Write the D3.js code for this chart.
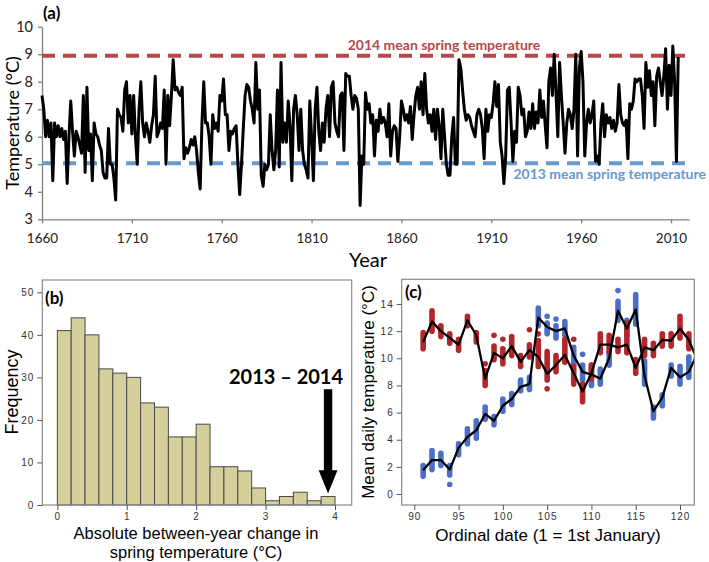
<!DOCTYPE html>
<html><head><meta charset="utf-8">
<script src="https://cdn.jsdelivr.net/npm/d3@7"></script>
<style>body{margin:0;background:#fff} svg{display:block}</style>
</head><body>
<svg id="chart" width="709" height="562"></svg>
<script>
// ---------- Panel (a): spring temperature series ----------
const startYear = 1660;
const springTemp = [
 7.5,7.0,6.0,6.6,6.0,6.5,4.4,6.5,6.0,6.4,
 6.0,6.3,5.9,6.2,4.3,6.0,7.3,6.2,5.3,6.2,
 6.0,5.7,5.4,7.5,4.7,7.8,5.5,6.1,4.4,6.5,
 6.1,6.0,5.7,5.5,4.7,4.5,4.5,6.3,5.0,5.0,
 4.5,3.7,7.0,6.8,6.7,6.2,7.7,8.0,6.5,7.5,
 6.1,7.5,6.0,5.0,7.0,8.0,6.5,6.0,6.5,6.2,
 5.8,6.4,6.8,8.2,6.0,6.2,6.5,6.3,7.7,5.0,
 7.5,6.4,7.5,8.8,7.7,7.8,7.6,7.5,7.8,5.2,
 5.6,5.4,5.6,5.9,5.7,6.0,5.5,4.7,4.1,6.5,
 8.0,6.5,6.5,6.0,5.0,6.8,6.3,6.5,6.2,7.5,
 7.3,8.1,6.8,6.8,5.5,6.2,6.1,6.3,6.4,5.0,
 3.9,5.0,6.3,7.5,7.9,7.8,7.3,7.0,6.5,8.7,
 7.0,7.7,4.6,4.2,5.0,4.8,5.0,6.8,5.5,4.8,
 5.5,7.7,4.9,8.7,5.8,6.5,5.8,7.3,6.4,4.4,
 7.0,7.5,6.8,5.5,7.0,5.5,5.0,4.8,4.5,7.3,
 6.0,4.4,7.0,7.8,6.2,5.5,6.5,5.8,7.0,7.5,
 6.0,7.8,8.0,6.5,6.2,6.0,7.5,7.6,5.5,8.3,
 8.2,8.2,7.5,7.0,7.5,7.4,7.0,3.5,5.3,5.0,
 7.6,7.0,7.2,6.5,6.8,5.3,6.6,6.2,7.0,6.5,
 6.7,6.5,6.0,7.2,5.3,6.2,6.4,6.3,5.1,6.0,
 7.3,7.0,6.6,6.8,6.5,7.1,5.9,6.8,7.5,7.8,
 7.0,8.0,6.8,8.3,7.0,6.5,6.8,6.2,7.0,5.9,
 7.0,6.4,5.2,7.0,6.0,5.0,4.6,4.6,6.0,6.7,
 5.0,5.0,8.8,8.5,7.7,7.0,6.6,6.8,6.7,6.4,
 6.2,6.0,6.8,7.0,6.8,6.3,5.2,7.0,6.2,6.8,
 6.7,7.2,8.0,7.1,7.9,5.8,5.3,4.3,5.3,7.7,
 7.8,6.5,5.1,6.2,5.8,7.8,7.5,6.8,7.0,6.0,
 6.2,6.9,6.3,7.2,6.3,6.9,6.5,7.7,6.7,7.3,
 6.4,5.6,8.0,8.5,7.5,9.0,7.6,6.0,8.7,7.5,
 6.5,5.4,6.5,7.0,6.8,6.3,7.0,9.0,5.3,8.5,
 9.1,8.0,5.3,6.5,7.0,6.5,6.8,7.3,5.1,5.3,
 5.0,6.5,7.2,6.0,6.8,6.5,6.7,6.3,6.6,6.2,
 6.5,7.9,6.8,6.5,6.4,6.6,5.2,7.2,7.0,7.3,
 8.1,8.0,8.1,8.1,7.5,6.3,8.7,7.8,8.4,7.5,
 8.0,6.4,8.2,8.5,8.0,7.5,8.2,9.2,7.0,8.6,
 7.5,9.3,8.0,5.1,8.9
];
const yearTicks = [1660,1710,1760,1810,1860,1910,1960,2010];
const tempTicks = [3,4,5,6,7,8,9,10];
const refValues = [8.94, 5.04];
const refLabels = ["2014 mean spring temperature", "2013 mean spring temperature"];
const refColors = ["#b5484a", "#6798d0"];

// ---------- Panel (b): histogram ----------
const binWidth = 0.2;
const binFreq = [41,44,40,32,31,30,24,23,16,16,19,9,9,8,4,1,2,3,1,2];
const changeTicks = [0,1,2,3,4];
const freqTicks = [0,10,20,30,40,50];
const highlightChange = 3.9;
const highlightFreq = 2;

// ---------- Panel (c): daily temperatures ----------
const days = [91,92,93,94,95,96,97,98,99,100,101,102,103,104,105,106,107,108,109,110,111,112,113,114,115,116,117,118,119,120,121,122];
const mean2014 = [11.2,12.7,12.0,11.5,11.0,12.8,11.7,8.5,10.4,10.0,10.9,9.75,10.6,10.1,8.85,9.5,10.25,8.9,7.55,8.9,11.0,11.0,10.8,11.0,9.3,10.8,10.6,11.35,11.3,12.2,11.35,9.8];
const mean2013 = [1.75,2.5,2.5,1.8,3.4,4.2,4.7,5.9,5.4,6.5,7.0,7.9,8.1,13.0,12.3,12.0,12.2,10.2,9.0,8.8,8.5,10.0,13.5,12.2,13.6,8.7,6.1,7.1,9.3,8.6,9.0,10.4];
const stripDays = [91,92,93,94,95,96,97,98,99,100,101,102,103,104,105,106,107,108,109,110,111,112,113,114,115,116,117,118,119,120,121];
const lo2014 = [10.5,11.8,11.4,10.9,10.4,12.2,11.0,7.8,9.7,9.4,10.0,9.2,9.9,9.2,8.2,8.8,9.5,7.9,6.6,8.3,10.2,10.3,10.3,10.2,8.7,10.0,10.0,10.7,10.7,11.3,10.5];
const hi2014 = [12.1,13.7,12.6,12.0,11.6,13.3,12.1,9.3,11.1,10.9,11.8,10.4,11.2,11.5,10.7,10.4,11.6,9.6,8.3,9.7,12.0,11.9,11.6,12.8,10.1,11.6,11.3,12.0,12.0,13.3,12.0];
const lo2013 = [1.1,1.6,1.9,1.2,2.7,3.5,3.9,5.3,4.9,5.9,6.4,7.4,7.5,12.2,11.6,11.3,11.5,9.3,8.2,7.8,7.9,9.3,12.6,11.5,12.3,7.9,5.4,6.3,8.5,7.9,8.4];
const hi2013 = [2.3,3.4,3.2,2.3,3.9,5.0,5.6,6.6,5.9,7.2,7.6,8.6,8.8,13.9,12.8,12.6,12.9,11.0,9.7,9.7,9.4,10.6,14.4,13.0,14.9,10.0,6.6,7.5,9.7,9.6,10.3];
const extraDay2014 = [98,99,100,103,104,105,108];
const extraVal2014 = [9.6,11.7,11.4,12.1,11.8,7.75,11.4];
const extraDay2013 = [94,105,106,109,113];
const extraVal2013 = [0.7,13.1,12.9,10.3,15.0];
const dayTicks = [90,95,100,105,110,115,120];
const dailyTicks = [0,2,4,6,8,10,12,14];

const RED = "#b3262c", BLUE = "#4b6fc4";
const svg = d3.select("#chart");
const calibri = "Lato, 'Open Sans', sans-serif";
const arial = "'Liberation Sans', Arial, sans-serif";
const intFmt = d3.format("d");

// ===== Panel (a) =====
const xA = d3.scaleLinear().domain([1660, 2020]).range([42, 689]);
const yA = d3.scaleLinear().domain([3, 10]).range([219.3, 26.7]);
const gA = svg.append("g");

const axA = gA.append("g").attr("transform", "translate(42,0)")
  .call(d3.axisLeft(yA).tickValues(tempTicks).tickFormat(intFmt).tickSize(4).tickSizeOuter(0).tickPadding(5));
const axB = gA.append("g").attr("transform", `translate(0,${yA(3)})`)
  .call(d3.axisBottom(xA).tickValues(yearTicks).tickFormat(intFmt).tickSize(4).tickSizeOuter(0).tickPadding(10));
[axA, axB].forEach(a => {
  a.selectAll("path.domain").attr("stroke", "#808080").attr("stroke-width", 1.3);
  a.selectAll(".tick line").attr("stroke", "#808080").attr("stroke-width", 1.3);
  a.selectAll("text").attr("font-family", calibri).attr("font-size", 14.5).attr("fill", "#222");
});
axB.selectAll("text").attr("font-size", 13.5);

refValues.forEach((v, i) => {
  gA.append("line").attr("x1", xA(1660)).attr("x2", xA(2020))
    .attr("y1", yA(v)).attr("y2", yA(v))
    .attr("stroke", refColors[i]).attr("stroke-width", 4).attr("stroke-dasharray", "13,8");
});

gA.append("path").datum(springTemp)
  .attr("d", d3.line().x((d, i) => xA(startYear + i)).y(d => yA(d)))
  .attr("fill", "none").attr("stroke", "#000").attr("stroke-width", 3).attr("stroke-linejoin", "round");

gA.append("text").attr("x", 444).attr("y", yA(refValues[0]) - 6).attr("text-anchor", "middle")
  .attr("font-family", calibri).attr("font-weight", "bold").attr("font-size", 14)
  .attr("fill", refColors[0]).text(refLabels[0]);
gA.append("text").attr("x", 706).attr("y", yA(refValues[1]) + 16).attr("text-anchor", "end")
  .attr("font-family", calibri).attr("font-weight", "bold").attr("font-size", 14)
  .attr("fill", refColors[1]).text(refLabels[1]);

gA.append("text").attr("x", 43).attr("y", 19).attr("font-family", calibri).attr("font-weight", "bold")
  .attr("font-size", 17).text("(a)");
gA.append("text").attr("transform", `translate(19,${(yA(3)+yA(10))/2}) rotate(-90)`).attr("text-anchor", "middle")
  .attr("font-family", calibri).attr("font-size", 18).text("Temperature (°C)");
gA.append("text").attr("x", 368).attr("y", 267).attr("text-anchor", "middle")
  .attr("font-family", calibri).attr("font-size", 20).text("Year");

// ===== Panel (b) =====
const xB = d3.scaleLinear().domain([0, 4]).range([57.3, 335]);
const yB = d3.scaleLinear().domain([0, 50]).range([505, 292.3]);
const gB = svg.append("g");
const boxB = {x0: 42.3, y0: 280, x1: 351.7, y1: 505};

gB.selectAll("rect.bar").data(binFreq).join("rect").attr("class", "bar")
  .attr("x", (d, i) => xB(i * binWidth)).attr("width", xB(binWidth) - xB(0))
  .attr("y", d => yB(d)).attr("height", d => yB(0) - yB(d))
  .attr("fill", "#d5cf9b").attr("stroke", "#4a4a4a").attr("stroke-width", 1);

gB.append("rect").attr("x", boxB.x0).attr("y", boxB.y0).attr("width", boxB.x1 - boxB.x0).attr("height", boxB.y1 - boxB.y0)
  .attr("fill", "none").attr("stroke", "#8a8a8a").attr("stroke-width", 1.2);

const smallAxisStyle = a => {
  a.selectAll("path.domain").remove();
  a.selectAll(".tick line").attr("stroke", "#555").attr("stroke-width", 1);
  a.selectAll("text").attr("font-family", arial).attr("font-size", 10).attr("letter-spacing", 1).attr("fill", "#333");
};
smallAxisStyle(gB.append("g").attr("transform", `translate(${boxB.x0},0)`)
  .call(d3.axisLeft(yB).tickValues(freqTicks).tickFormat(intFmt).tickSize(5).tickPadding(3)));
smallAxisStyle(gB.append("g").attr("transform", `translate(0,${boxB.y1})`)
  .call(d3.axisBottom(xB).tickValues(changeTicks).tickFormat(intFmt).tickSize(5).tickPadding(3)));

gB.append("text").attr("x", 45).attr("y", 304).attr("font-family", calibri).attr("font-weight", "bold")
  .attr("font-size", 17).text("(b)");
gB.append("text").attr("transform", `translate(18,392) rotate(-90)`).attr("text-anchor", "middle")
  .attr("font-family", arial).attr("font-size", 18).text("Frequency");
gB.append("text").attr("x", 196).attr("y", 539).attr("text-anchor", "middle")
  .attr("font-family", arial).attr("font-size", 16.5).text("Absolute between-year change in");
gB.append("text").attr("x", 196).attr("y", 558).attr("text-anchor", "middle")
  .attr("font-family", arial).attr("font-size", 16.5).text("spring temperature (°C)");
gB.append("text").attr("x", 286).attr("y", 384).attr("text-anchor", "middle")
  .attr("font-family", calibri).attr("font-weight", "bold").attr("font-size", 20).text("2013 – 2014");

const ax = xB(highlightChange), tip = yB(highlightFreq) - 3;
gB.append("path")
  .attr("d", `M${ax-4.2},389.3 L${ax+4.2},389.3 L${ax+4.2},${tip-23.3} L${ax+9.4},${tip-23.3} L${ax},${tip} L${ax-9.4},${tip-23.3} L${ax-4.2},${tip-23.3} Z`)
  .attr("fill", "#000");

// ===== Panel (c) =====
const xC = d3.scaleLinear().domain([90, 120]).range([414.3, 680]);
const yC = d3.scaleLinear().domain([0, 14]).range([494, 304]);
const gC = svg.append("g");
const boxC = {x0: 401.7, y0: 279.3, x1: 694.3, y1: 505};
svg.append("defs").append("clipPath").attr("id", "clipC").append("rect")
  .attr("x", boxC.x0).attr("y", boxC.y0).attr("width", boxC.x1 - boxC.x0).attr("height", boxC.y1 - boxC.y0);

const plotC = gC.append("g").attr("clip-path", "url(#clipC)");
const strip = (lo, hi, color) => {
  plotC.append("g").selectAll("line").data(stripDays).join("line")
    .attr("x1", d => xC(d)).attr("x2", d => xC(d))
    .attr("y1", (d, i) => yC(lo[i]) - 2.7).attr("y2", (d, i) => yC(hi[i]) + 2.7)
    .attr("stroke", color).attr("stroke-width", 5.6).attr("stroke-linecap", "round");
};
strip(lo2013, hi2013, BLUE);
strip(lo2014, hi2014, RED);
plotC.append("g").selectAll("circle").data(extraDay2013).join("circle")
  .attr("cx", d => xC(d)).attr("cy", (d, i) => yC(extraVal2013[i])).attr("r", 2.8).attr("fill", BLUE);
plotC.append("g").selectAll("circle").data(extraDay2014).join("circle")
  .attr("cx", d => xC(d)).attr("cy", (d, i) => yC(extraVal2014[i])).attr("r", 2.8).attr("fill", RED);

const lineC = vals => d3.line().x((d, i) => xC(days[i])).y(d => yC(d))(vals);
[mean2014, mean2013].forEach(v => {
  plotC.append("path").attr("d", lineC(v)).attr("fill", "none").attr("stroke", "#000")
    .attr("stroke-width", 2.3).attr("stroke-linejoin", "round");
});

gC.append("rect").attr("x", boxC.x0).attr("y", boxC.y0).attr("width", boxC.x1 - boxC.x0).attr("height", boxC.y1 - boxC.y0)
  .attr("fill", "none").attr("stroke", "#8a8a8a").attr("stroke-width", 1.2);
smallAxisStyle(gC.append("g").attr("transform", `translate(${boxC.x0},0)`)
  .call(d3.axisLeft(yC).tickValues(dailyTicks).tickFormat(intFmt).tickSize(5).tickPadding(3)));
smallAxisStyle(gC.append("g").attr("transform", `translate(0,${boxC.y1})`)
  .call(d3.axisBottom(xC).tickValues(dayTicks).tickFormat(intFmt).tickSize(5).tickPadding(3)));

gC.append("text").attr("x", 405).attr("y", 298).attr("font-family", calibri).attr("font-weight", "bold")
  .attr("font-size", 17).text("(c)");
gC.append("text").attr("transform", `translate(374,392) rotate(-90)`).attr("text-anchor", "middle")
  .attr("font-family", arial).attr("font-size", 17).text("Mean daily temperature (°C)");
gC.append("text").attr("x", 548).attr("y", 541).attr("text-anchor", "middle")
  .attr("font-family", arial).attr("font-size", 17).text("Ordinal date (1 = 1st January)");
</script>
</body></html>
